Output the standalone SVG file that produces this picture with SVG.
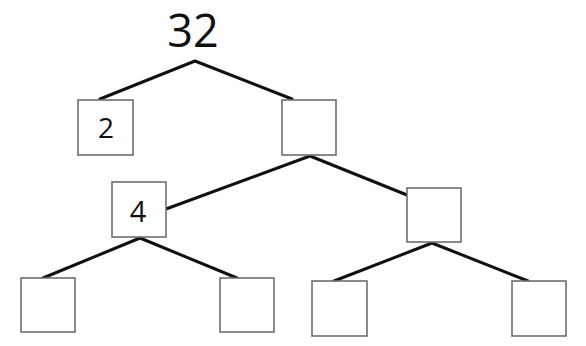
<svg xmlns="http://www.w3.org/2000/svg" width="586" height="346" viewBox="0 0 586 346">
<style>
.box{fill:#fff;stroke:#6e6e6e;stroke-width:1.6}
.edge{stroke:#111;stroke-width:3;fill:none;stroke-linecap:round;stroke-linejoin:round}
.lbl{font-family:"Open Sans","DejaVu Sans",sans-serif;fill:#111;text-anchor:middle}
</style>
<rect width="586" height="346" fill="#fff"/>
<g id="connectors">
<polyline class="edge" points="100,99 195,61 292,99"/>
<polyline class="edge" points="166,209 310,156 407,195"/>
<polyline class="edge" points="43,278 140,238 237,278"/>
<polyline class="edge" points="334,281 432,243 528,281"/>
</g>
<g id="root"><text class="lbl" x="193" y="47" font-size="45">32</text></g>
<g id="n2"><rect class="box" x="78" y="100" width="55" height="55"/><text class="lbl" x="106" y="138" font-size="28">2</text></g>
<g id="nR"><rect class="box" x="282" y="100" width="54" height="55"/></g>
<g id="n4"><rect class="box" x="112" y="182" width="54" height="55"/><text class="lbl" x="138" y="222" font-size="29">4</text></g>
<g id="nRR"><rect class="box" x="407" y="188" width="54" height="54"/></g>
<g id="n4L"><rect class="box" x="21" y="278" width="54" height="54"/></g>
<g id="n4R"><rect class="box" x="220" y="278" width="54" height="54"/></g>
<g id="nRRL"><rect class="box" x="312" y="281" width="55" height="55"/></g>
<g id="nRRR"><rect class="box" x="512" y="281" width="54" height="55"/></g>
</svg>
